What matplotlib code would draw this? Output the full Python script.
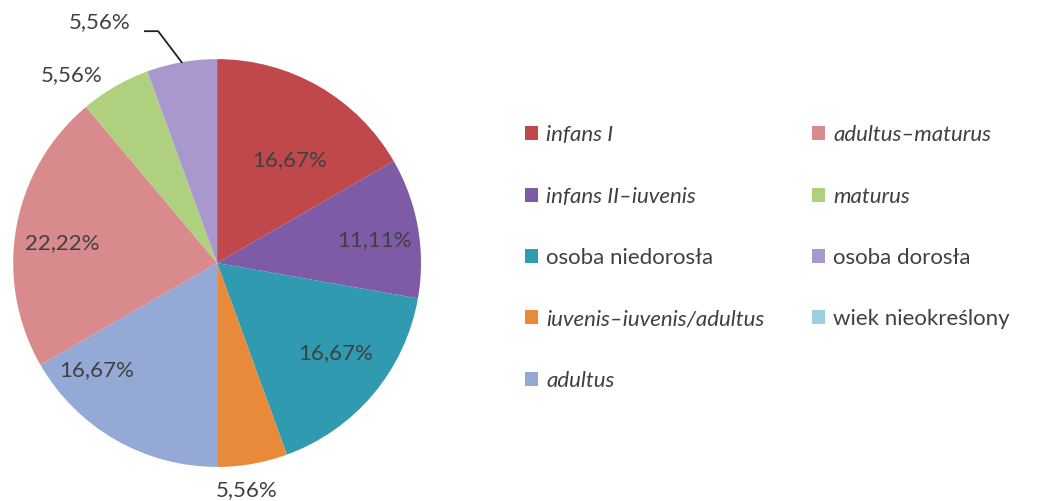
import numpy as np
import matplotlib.pyplot as plt
from matplotlib.patches import Patch

plt.rcParams['font.family'] = ['Lato', 'DejaVu Sans']

# age groups, clockwise from 12 o'clock
categories = ['infans I', 'infans II–iuvenis', 'osoba niedorosła', 'iuvenis–iuvenis/adultus',
              'adultus', 'adultus–maturus', 'maturus', 'osoba dorosła', 'wiek nieokreślony']
shares = [16.67, 11.11, 16.67, 5.56, 16.67, 22.22, 5.56, 5.56, 0.0]
italic = [True, True, False, True, True, True, True, False, False]
colors = ['#C0474A', '#7D5BA6', '#2F9AB0', '#E88A3A', '#95A9D6',
          '#D88A8D', '#AFD17F', '#A898CE', '#9BCFE0']

# where each percentage label sits (pie radius = 1)
label_xy = [(0.358, 0.505), (0.770, 0.113), (0.583, -0.441), (0.147, -1.113),
            (-0.593, -0.525), (-0.760, 0.098), (-0.711, 0.922), (-0.574, 1.181)]

txt = '#404040'

fig = plt.figure(figsize=(10.64, 5.01), dpi=100)
ax = fig.add_axes([0.0123, 0.068, 0.3835, 0.814])

wedges, _ = ax.pie(shares, colors=colors, startangle=90, counterclock=False,
                   radius=1.0, wedgeprops=dict(linewidth=0))
ax.set_xlim(-1, 1)
ax.set_ylim(-1, 1)
ax.set_aspect('equal')
ax.axis('off')

for v, (x, y) in zip(shares, label_xy):
    ax.text(x, y, f'{v:.2f}%'.replace('.', ','), ha='center', va='center',
            fontsize=16, color=txt, clip_on=False)

# leader line for the small "osoba dorosła" slice
w = wedges[7]
mid = np.deg2rad((w.theta1 + w.theta2) / 2)
ex, ey = np.cos(mid), np.sin(mid)
lx, ly = label_xy[7]
ax.plot([lx + 0.22, lx + 0.285, ex], [ly - 0.044, ly - 0.044, ey],
        color='#202020', lw=1.3, clip_on=False)

handles = [Patch(facecolor=c, edgecolor='none') for c in colors]
leg = fig.legend(handles, categories, ncol=2, loc='upper left',
                 bbox_to_anchor=(0.4934, 0.750), frameon=False,
                 fontsize=16, handlelength=0.6, handleheight=0.6,
                 handletextpad=0.36, labelspacing=1.86, columnspacing=2.14,
                 borderpad=0, borderaxespad=0)
for t, it in zip(leg.get_texts(), italic):
    t.set_color(txt)
    if it:
        t.set_style('italic')

fig.savefig('out.png', dpi=100)
